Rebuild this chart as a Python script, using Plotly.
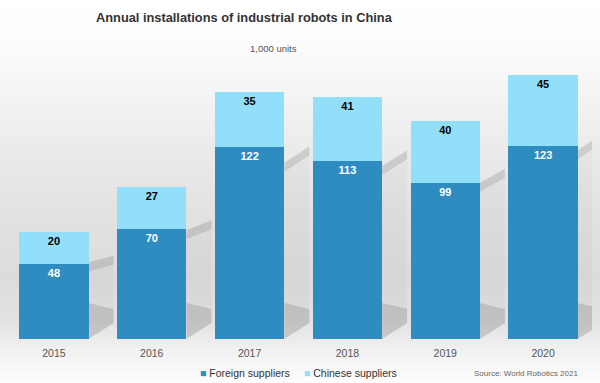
import base64
import plotly.graph_objects as go

years = ["2015", "2016", "2017", "2018", "2019", "2020"]
foreign = [48, 70, 122, 113, 99, 123]
chinese = [20, 27, 35, 41, 40, 45]

C_FOREIGN = "#2e8cc0"
C_CHINESE = "#92dff9"
FONT = "Liberation Sans, Arial, sans-serif"

x = list(range(len(years)))
totals = [f + c for f, c in zip(foreign, chinese)]

fig = go.Figure()
fig.add_trace(go.Bar(
    x=x, y=foreign, name="Foreign suppliers", width=0.71,
    marker=dict(color=C_FOREIGN, line=dict(width=0)),
    text=[str(v) for v in foreign], textposition="inside", insidetextanchor="end",
    textfont=dict(color="white", size=11, family=FONT, weight="bold"),
    showlegend=False,
))
fig.add_trace(go.Bar(
    x=x, y=chinese, name="Chinese suppliers", width=0.71,
    marker=dict(color=C_CHINESE, line=dict(width=0)),
    text=[str(v) for v in chinese], textposition="inside", insidetextanchor="end",
    textfont=dict(color="black", size=11, family=FONT, weight="bold"),
    showlegend=False,
))

# background gradient (svg data uri)
svg = """<svg xmlns='http://www.w3.org/2000/svg' width='600' height='383' preserveAspectRatio='none'>
<defs><linearGradient id='g' x1='0' y1='0' x2='0' y2='1'>
<stop offset='0' stop-color='#ffffff'/>
<stop offset='0.14' stop-color='#fbfbfb'/>
<stop offset='0.32' stop-color='#efefef'/>
<stop offset='0.55' stop-color='#e2e2e2'/>
<stop offset='0.72' stop-color='#dcdcdc'/>
<stop offset='0.84' stop-color='#e2e2e2'/>
<stop offset='0.92' stop-color='#f2f2f2'/>
<stop offset='1' stop-color='#fdfdfd'/>
</linearGradient></defs>
<rect width='600' height='383' fill='url(#g)'/></svg>"""
uri = "data:image/svg+xml;base64," + base64.b64encode(svg.encode()).decode()

H = 383
T, B = 60, 44
ph = H - T - B
fig.add_layout_image(dict(
    source=uri, xref="paper", yref="paper",
    x=-5 / 587, y=1 + T / ph, sizex=600 / 587, sizey=H / ph,
    xanchor="left", yanchor="top", sizing="stretch", layer="below",
))

# shadows
px_per_unit = ph / 177.6
w = 25 / 97.83
shapes = []
for i, tot in enumerate(totals):
    xr = i + 0.355
    xe = xr + w
    lift = 16 / px_per_unit
    ytl = 0.715 * tot
    ytr = 0.78 * tot
    shapes.append(dict(type="path", xref="x", yref="y", layer="below",
                       path=f"M{xr},0 L{xe},{lift} L{xe},{ytr} L{xr},{ytl} Z",
                       fillcolor="rgba(0,0,0,0.025)", line=dict(width=0)))
    shapes.append(dict(type="path", xref="x", yref="y", layer="below",
                       path=f"M{xr},0 L{xe},{lift} L{xe},{lift + 14 / px_per_unit} L{xr},{36 / px_per_unit} Z",
                       fillcolor="rgba(0,0,0,0.12)", line=dict(width=0)))
    d = 9 / px_per_unit
    shapes.append(dict(type="path", xref="x", yref="y", layer="below",
                       path=f"M{xr},{ytl} L{xe},{ytr} L{xe},{ytr - d} L{xr},{ytl - d} Z",
                       fillcolor="rgba(0,0,0,0.10)", line=dict(width=0)))

fig.update_layout(
    width=600, height=383,
    margin=dict(l=5, r=8, t=T, b=B),
    barmode="stack",
    paper_bgcolor="white", plot_bgcolor="rgba(0,0,0,0)",
    font=dict(family=FONT, color="#444"),
    shapes=shapes,
    xaxis=dict(range=[-0.5, 5.5], tickvals=x, ticktext=years, showgrid=False,
               zeroline=False, showline=False, ticks="", ticklabelstandoff=6,
               tickfont=dict(size=10.5, color="#555"), fixedrange=True),
    yaxis=dict(range=[0, 177.6], visible=False, fixedrange=True),
    annotations=[
        dict(text="<b>Annual installations of industrial robots in China</b>",
             xref="paper", yref="paper", x=89 / 587, y=1 + (T - 17) / ph,
             xanchor="left", yanchor="middle", showarrow=False,
             font=dict(size=12.8, color="#333", family=FONT)),
        dict(text="1,000 units", xref="paper", yref="paper", x=268 / 587,
             y=1 + (T - 48) / ph, xanchor="center", yanchor="middle",
             showarrow=False, font=dict(size=9.5, color="#555", family=FONT)),
        dict(text=f"<span style='color:{C_FOREIGN}'>■</span> Foreign suppliers",
             xref="paper", yref="paper", x=193 / 587, y=-(373 - (H - B)) / ph,
             xanchor="left", yanchor="middle", showarrow=False,
             font=dict(size=10.5, color="#333", family=FONT)),
        dict(text=f"<span style='color:{C_CHINESE}'>■</span> Chinese suppliers",
             xref="paper", yref="paper", x=297 / 587, y=-(373 - (H - B)) / ph,
             xanchor="left", yanchor="middle", showarrow=False,
             font=dict(size=10.5, color="#333", family=FONT)),
        dict(text="Source: World Robotics 2021", xref="paper", yref="paper",
             x=575 / 587, y=-(373 - (H - B)) / ph, xanchor="right", yanchor="middle",
             showarrow=False, font=dict(size=8, color="#666", family=FONT)),
    ],
)

fig.write_html("out.html")
